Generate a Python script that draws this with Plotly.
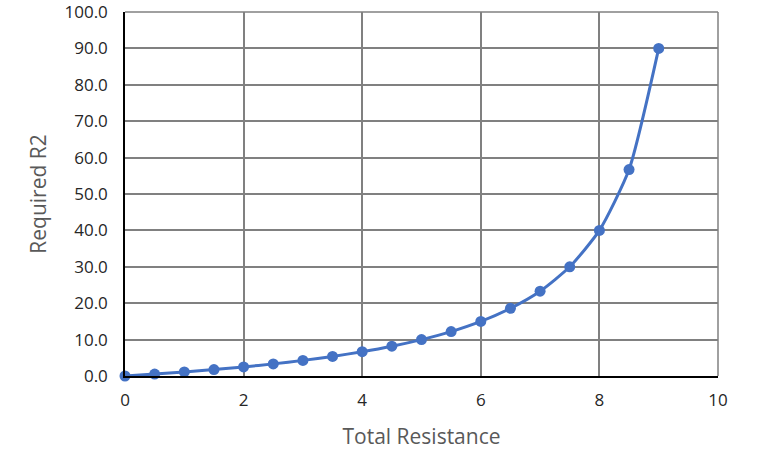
import plotly.graph_objects as go

total_resistance = [0, 0.5, 1, 1.5, 2, 2.5, 3, 3.5, 4, 4.5, 5, 5.5, 6, 6.5, 7, 7.5, 8, 8.5, 9]
required_r2 = [0.0, 0.53, 1.11, 1.76, 2.5, 3.33, 4.29, 5.38, 6.67, 8.18, 10.0, 12.2, 15.0, 18.6, 23.3, 30.0, 40.0, 56.7, 90.0]

x_ticks = [0, 2, 4, 6, 8, 10]
y_ticks = [0, 10, 20, 30, 40, 50, 60, 70, 80, 90, 100]

fig = go.Figure()
fig.add_trace(go.Scatter(
    x=total_resistance, y=required_r2, mode="lines+markers",
    line=dict(color="#4472C4", width=3, shape="spline", smoothing=0.6),
    marker=dict(color="#4472C4", size=11),
    cliponaxis=False,
    showlegend=False,
))

font_family = "Open Sans, Noto Sans, sans-serif"
fig.update_layout(
    width=770, height=452,
    margin=dict(l=125, r=52, t=0, b=76),
    paper_bgcolor="white", plot_bgcolor="white",
    font=dict(family=font_family, color="#404040", size=17),
    xaxis=dict(
        range=[0, 10], tickvals=x_ticks, ticktext=[str(v) for v in x_ticks],
        showgrid=True, gridcolor="#808080", gridwidth=1.5,
        showline=True, linecolor="black", linewidth=1.5, mirror=False,
        zeroline=False, ticks="", ticklabelstandoff=8, ticklabeloverflow="allow",
        tickfont=dict(size=17, color="#262626"),
        title=dict(text="Total Resistance", font=dict(size=21, color="#595959"), standoff=19),
    ),
    yaxis=dict(
        range=[0, 100], tickvals=y_ticks, ticktext=[f"{v:.1f}" for v in y_ticks],
        showgrid=True, gridcolor="#808080", gridwidth=1.5,
        showline=True, linecolor="black", linewidth=1.5,
        zeroline=False, ticks="", ticklabelstandoff=12, ticklabeloverflow="allow",
        tickfont=dict(size=17, color="#262626"),
        title=dict(text="Required R2", font=dict(size=21, color="#595959"), standoff=12),
    ),
)
fig.add_shape(type="line", xref="paper", yref="paper", x0=1, x1=1, y0=0, y1=1,
              line=dict(color="#808080", width=1.5), layer="below")
fig.add_shape(type="line", xref="paper", yref="paper", x0=0, x1=1, y0=1, y1=1,
              line=dict(color="#808080", width=1.5), layer="below")
fig.write_html("out.html")
